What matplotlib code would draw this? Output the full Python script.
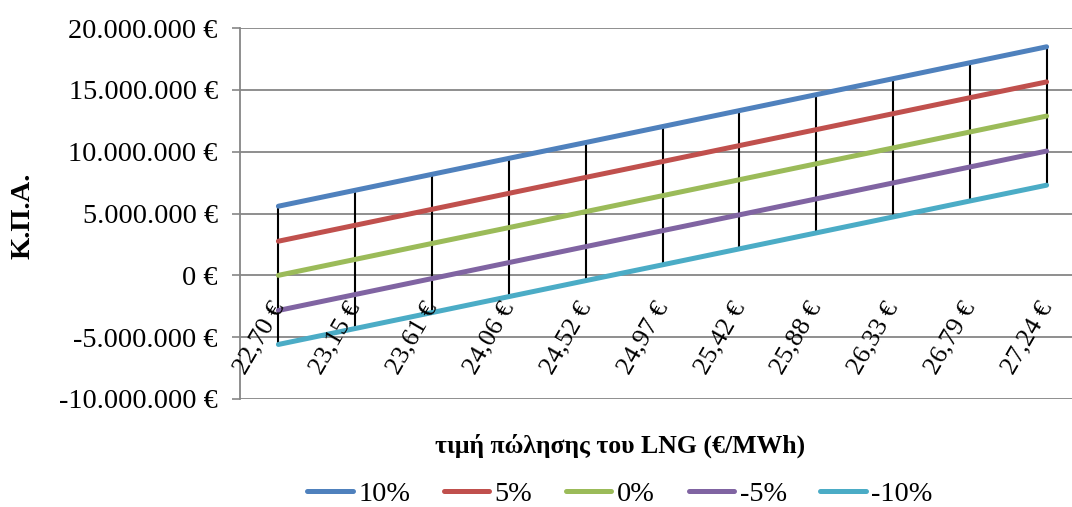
import matplotlib.pyplot as plt
import numpy as np
from matplotlib.ticker import FuncFormatter, MultipleLocator

plt.rcParams['font.family'] = ['Liberation Serif', 'DejaVu Serif']

prices = ["22,70 €", "23,15 €", "23,61 €", "24,06 €", "24,52 €", "24,97 €",
          "25,42 €", "25,88 €", "26,33 €", "26,79 €", "27,24 €"]

# NPV per scenario, in millions of euro
npv_p10 = [5.59, 6.88, 8.17, 9.46, 10.74, 12.03, 13.32, 14.61, 15.90, 17.19, 18.48]
npv_p5 = [2.76, 4.05, 5.34, 6.63, 7.92, 9.20, 10.49, 11.78, 13.07, 14.36, 15.64]
npv_0 = [0.00, 1.29, 2.58, 3.86, 5.15, 6.44, 7.73, 9.02, 10.30, 11.59, 12.88]
npv_m5 = [-2.84, -1.55, -0.26, 1.03, 2.32, 3.61, 4.89, 6.18, 7.47, 8.76, 10.05]
npv_m10 = [-5.59, -4.30, -3.01, -1.72, -0.43, 0.85, 2.14, 3.43, 4.72, 6.01, 7.29]

series = [("10%", npv_p10, "#4F81BD"),
          ("5%", npv_p5, "#C0504D"),
          ("0%", npv_0, "#9BBB59"),
          ("-5%", npv_m5, "#8064A2"),
          ("-10%", npv_m10, "#4BACC6")]

FS = 20.3

fig = plt.figure(figsize=(10.72, 5.07), dpi=100)
ax = fig.add_axes([240 / 1072, 1 - 399 / 507, 845 / 1072, 371 / 507])

x = np.arange(len(prices))
all_vals = np.array([s[1] for s in series]) * 1e6

# high-low lines
ax.vlines(x, all_vals.min(axis=0), all_vals.max(axis=0), color="black", lw=1.5, zorder=2)

for name, vals, col in series:
    ax.plot(x, np.array(vals) * 1e6, color=col, lw=3.6, label=name,
            solid_capstyle="round", zorder=3)

ax.set_xlim(-0.5, len(prices) - 0.5)
ax.set_ylim(-10e6, 20e6)
ax.yaxis.set_major_locator(MultipleLocator(5e6))


def euro(v, pos):
    s = f"{abs(v):,.0f}".replace(",", ".")
    return ("-" if v < 0 else "") + s + " €"


ax.yaxis.set_major_formatter(FuncFormatter(euro))
ax.tick_params(axis="y", labelsize=FS, length=6, width=1.2, color="#868686", pad=10)
ax.set_xticks([])
ax.grid(axis="y", color="#868686", lw=1.3)
ax.set_axisbelow(True)
for side in ["top", "right", "bottom"]:
    ax.spines[side].set_visible(False)
ax.spines["left"].set_color("#868686")
ax.spines["left"].set_linewidth(1.3)

# category labels hanging from the zero line
for i, lab in enumerate(prices):
    ax.annotate(lab, (i, 0), xytext=(10, -23), textcoords="offset pixels",
                rotation=60, ha="right", va="top", fontsize=19)

fig.text(23 / 1072, 1 - 216 / 507, "Κ.Π.Α.", rotation=90, fontsize=20.5,
         fontweight="bold", ha="center", va="center")
fig.text(620 / 1072, 1 - 446 / 507, "τιμή πώλησης του LNG (€/MWh)", fontsize=18.5,
         fontweight="bold", ha="center", va="center")

fig.legend(loc="center", bbox_to_anchor=(620 / 1072, 1 - 494 / 507), ncol=5,
           frameon=False, fontsize=FS, handlelength=1.6, handletextpad=0.2,
           columnspacing=1.2)

fig.savefig("out.png", dpi=100)
